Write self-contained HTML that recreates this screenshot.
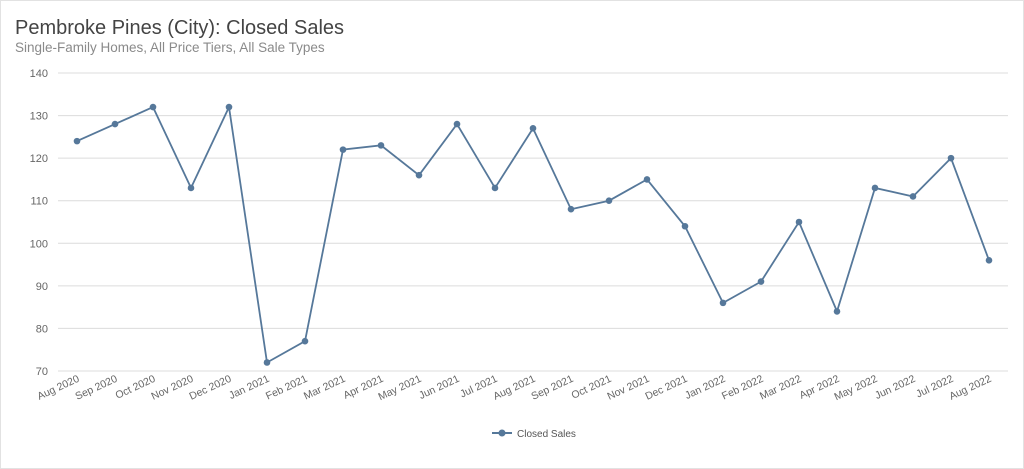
<!DOCTYPE html>
<html><head><meta charset="utf-8"><style>
body{margin:0;background:#fff;}
svg{display:block;font-family:"Liberation Sans",sans-serif;}
</style></head><body>
<svg id="c" width="1024" height="469">
<rect x="0.5" y="0.5" width="1023" height="468" fill="#fff" stroke="#e2e2e2"/>
<text x="15" y="34" font-size="20" fill="#444">Pembroke Pines (City): Closed Sales</text>
<text x="15" y="52" font-size="13.5" fill="#8a8a8a">Single-Family Homes, All Price Tiers, All Sale Types</text>
<g id="grid"></g><g id="xl"></g><g id="series"></g>
<g>
<line x1="492" y1="433" x2="512" y2="433" stroke="#56789a" stroke-width="2"/>
<circle cx="502" cy="433" r="3.5" fill="#56789a"/>
<text x="517" y="437" font-size="10" fill="#555">Closed Sales</text>
</g>
</svg>
<script>
const categories=["Aug 2020","Sep 2020","Oct 2020","Nov 2020","Dec 2020","Jan 2021","Feb 2021","Mar 2021","Apr 2021","May 2021","Jun 2021","Jul 2021","Aug 2021","Sep 2021","Oct 2021","Nov 2021","Dec 2021","Jan 2022","Feb 2022","Mar 2022","Apr 2022","May 2022","Jun 2022","Jul 2022","Aug 2022"];
const closedSales=[124,128,132,113,132,72,77,122,123,116,128,113,127,108,110,115,104,86,91,105,84,113,111,120,96];
const yTicks=[70,80,90,100,110,120,130,140];
const NS="http://www.w3.org/2000/svg";
const x0=77,x1=989,yMin=70,yMax=140,yB=371,yT=73;
function xs(i){return x0+i*(x1-x0)/(categories.length-1);}
function ys(v){return yB-(v-yMin)/(yMax-yMin)*(yB-yT);}
function mk(t,a,p){const e=document.createElementNS(NS,t);for(const k in a)e.setAttribute(k,a[k]);p.appendChild(e);return e;}
const g=document.getElementById('grid');
yTicks.forEach(v=>{
 const l=mk('line',{x1:58,x2:1008,y1:ys(v),y2:ys(v),stroke:'#dcdcdc','stroke-width':1},g);
 
 
 const t=mk('text',{x:48,y:ys(v)+4,'text-anchor':'end','font-size':11,fill:'#666'},g);
 t.textContent=v;
 
 
});
const xl=document.getElementById('xl');
categories.forEach((c,i)=>{
 const t=mk('text',{x:xs(i)+3,y:yB+10,'text-anchor':'end','font-size':10.5,fill:'#666',transform:`rotate(-25 ${xs(i)+3} ${yB+10})`},xl);
 t.textContent=c;
 
 
});
const s=document.getElementById('series');
const pl=mk('polyline',{points:closedSales.map((v,i)=>xs(i)+','+ys(v)).join(' '),fill:'none',stroke:'#56789a','stroke-width':1.8},s);


closedSales.forEach((v,i)=>{
 const c=mk('circle',{cx:xs(i),cy:ys(v),r:3.3,fill:'#56789a'},s);
 
 
});
</script>
</body></html>
